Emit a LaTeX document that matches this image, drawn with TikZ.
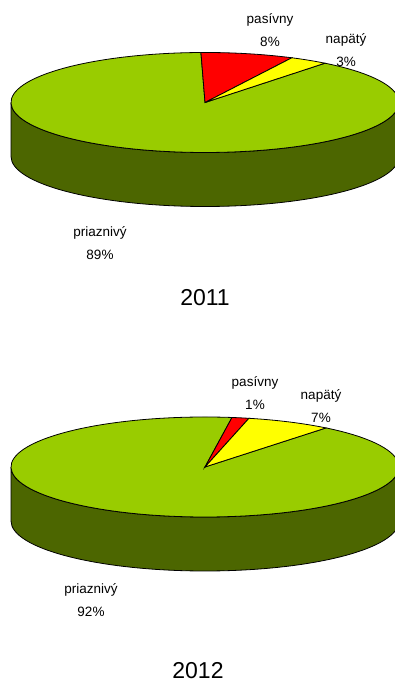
\documentclass[tikz,border=0pt]{standalone}
\usepackage{fontspec}
\setmainfont{Liberation Sans}
\usepackage{tikz}
\usetikzlibrary{backgrounds}
\definecolor{topgreen}{HTML}{99CC00}
\definecolor{sidegreen}{HTML}{4C6600}
\definecolor{slicered}{HTML}{FF0000}
\definecolor{sliceyellow}{HTML}{FFFF00}
\newcommand{\pierx}{194}
\newcommand{\piery}{50}
\newcommand{\piedepth}{54}
\newcommand{\lblfont}{\fontsize{13.5}{23}\selectfont}
\newcommand{\yearfont}{\fontsize{23}{26}\selectfont}
% side of one pie, #1 = centre
\newcommand{\pieside}[1]{
  \draw[fill=sidegreen] (#1) ++(-\pierx pt,0pt) -- ++(0pt,-\piedepth pt)
    arc[start angle=180, end angle=360, x radius=\pierx pt, y radius=\piery pt]
    -- ++(0pt,\piedepth pt)
    arc[start angle=360, end angle=180, x radius=\pierx pt, y radius=\piery pt]
    -- cycle;
}
% one slice, #1 = centre, #2 = colour, #3 #4 = angles
\newcommand{\pieslice}[4]{
  \draw[fill=#2] (#1) -- ++(#3:\pierx pt and \piery pt)
    arc[start angle=#3, end angle=#4, x radius=\pierx pt, y radius=\piery pt]
    -- cycle;
}

\begin{document}
\begin{tikzpicture}[x=1pt, y=1pt, line width=0.8pt,
    lbl/.style={align=center, inner sep=0pt, font=\lblfont},
    yearlbl/.style={inner sep=0pt, font=\yearfont}]
    \useasboundingbox (0,0) rectangle (395,684);
    \coordinate (ctop) at (205,581.5);
    \coordinate (cbot) at (205,217);

    % 2011 pie
    \pieside{ctop}
    \pieslice{ctop}{topgreen}{51.8}{-268.8}
    \pieslice{ctop}{slicered}{91.2}{63.4}
    \pieslice{ctop}{sliceyellow}{63.4}{51.8}

    % 2012 pie
    \pieside{cbot}
    \pieslice{cbot}{topgreen}{51.4}{-278}
    \pieslice{cbot}{slicered}{82}{76.9}
    \pieslice{cbot}{sliceyellow}{76.9}{51.4}

    % labels
    \node[lbl] (pasA) at (270,653.5) {pasívny\\8\%};
    \node[lbl] (napA) at (346,634) {napätý\\3\%};
    \node[lbl] (priA) at (100,441) {priaznivý\\89\%};
    \node[yearlbl] (yearA) at (205,386) {2011};

    \node[lbl] (pasB) at (255,291) {pasívny\\1\%};
    \node[lbl] (napB) at (321,278) {napätý\\7\%};
    \node[lbl] (priB) at (91,84) {priaznivý\\92\%};
    \node[yearlbl] (yearB) at (198,13) {2012};
  \end{tikzpicture}
\end{document}
